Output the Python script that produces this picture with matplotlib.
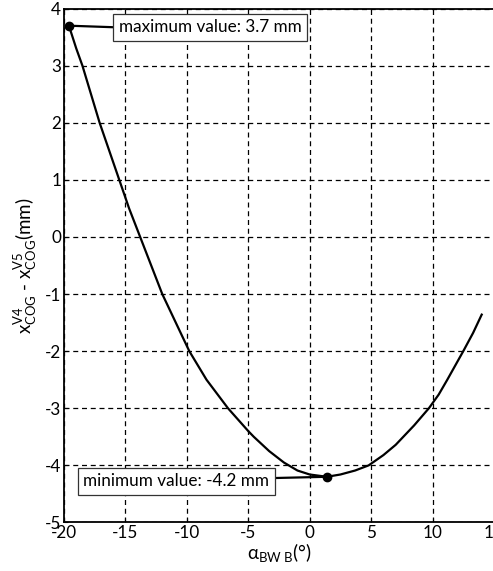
import matplotlib
matplotlib.use("Agg")
import matplotlib.pyplot as plt

plt.rcParams['font.family'] = ['Lato', 'DejaVu Sans']
plt.rcParams['mathtext.fontset'] = 'custom'
plt.rcParams['mathtext.rm'] = 'Lato'
plt.rcParams['mathtext.it'] = 'Lato'
plt.rcParams['axes.unicode_minus'] = False

# values
alpha = [-19.6, -19.0, -18.5, -17.8, -17.1, -16.3, -15.5, -14.7, -13.8,
         -12.9, -12.0, -10.9, -9.8, -8.4, -6.65, -5.0, -4.55, -3.3, -2.1,
         -1.0, 0.0, 1.4, 2.5, 3.7, 4.8, 6.0, 7.0, 8.5, 9.7, 10.5, 11.2,
         12.5, 13.3, 14.0]
dx_cog = [3.7, 3.3, 3.0, 2.5, 2.0, 1.5, 1.0, 0.5, 0.0,
          -0.5, -1.0, -1.5, -2.0, -2.5, -3.0, -3.4, -3.5, -3.75, -3.95,
          -4.09, -4.16, -4.2, -4.16, -4.09, -4.0, -3.82, -3.64, -3.3, -3.0,
          -2.76, -2.5, -2.0, -1.68, -1.36]

max_pt = (-19.6, 3.7)
min_pt = (1.4, -4.2)
max_label = "maximum value: 3.7 mm"
min_label = "minimum value: -4.2 mm"

xticks = [-20, -15, -10, -5, 0, 5, 10, 15]
yticks = [-5, -4, -3, -2, -1, 0, 1, 2, 3, 4]

fig = plt.figure(figsize=(4.93, 5.71), dpi=100)
ax = fig.add_axes([0.1298, 0.085, 0.8722, 0.9])

ax.plot(alpha, dx_cog, color='black', lw=1.6)
ax.plot(*max_pt, 'o', color='black', ms=6)
ax.plot(*min_pt, 'o', color='black', ms=6)

box = dict(boxstyle='square,pad=0.32', fc='white', ec='#333333', lw=0.9)
ax.annotate(max_label, xy=max_pt, xytext=(-15.55, 3.67), fontsize=12.3,
            va='center', ha='left', bbox=box,
            arrowprops=dict(arrowstyle='-', color='black', lw=1.6,
                            relpos=(0, 0.5), shrinkA=0, shrinkB=0))
ax.annotate(min_label, xy=min_pt, xytext=(-3.3, -4.28), fontsize=12.3,
            va='center', ha='right', bbox=box,
            arrowprops=dict(arrowstyle='-', color='black', lw=1.6,
                            relpos=(1, 0.7), shrinkA=0, shrinkB=0))

ax.set_xlim(-20, 15)
ax.set_ylim(-5, 4)
ax.set_xticks(xticks)
ax.set_yticks(yticks)
ax.tick_params(direction='in', length=3, labelsize=12.3, pad=2, color='black')
ax.grid(True, color='black', linestyle=(0, (4, 3)), lw=0.9)

for s in ax.spines.values():
    s.set_linewidth(1.3)

ax.set_xlabel(r'α$_{\mathregular{BW\ B}}$(°)', fontsize=13.5, labelpad=0)
ax.set_ylabel(r'$\mathregular{x^{V4}_{COG}}$ - $\mathregular{x^{V5}_{COG}}$(mm)',
              fontsize=13.5, labelpad=4)

fig.savefig('out.png', dpi=100)
